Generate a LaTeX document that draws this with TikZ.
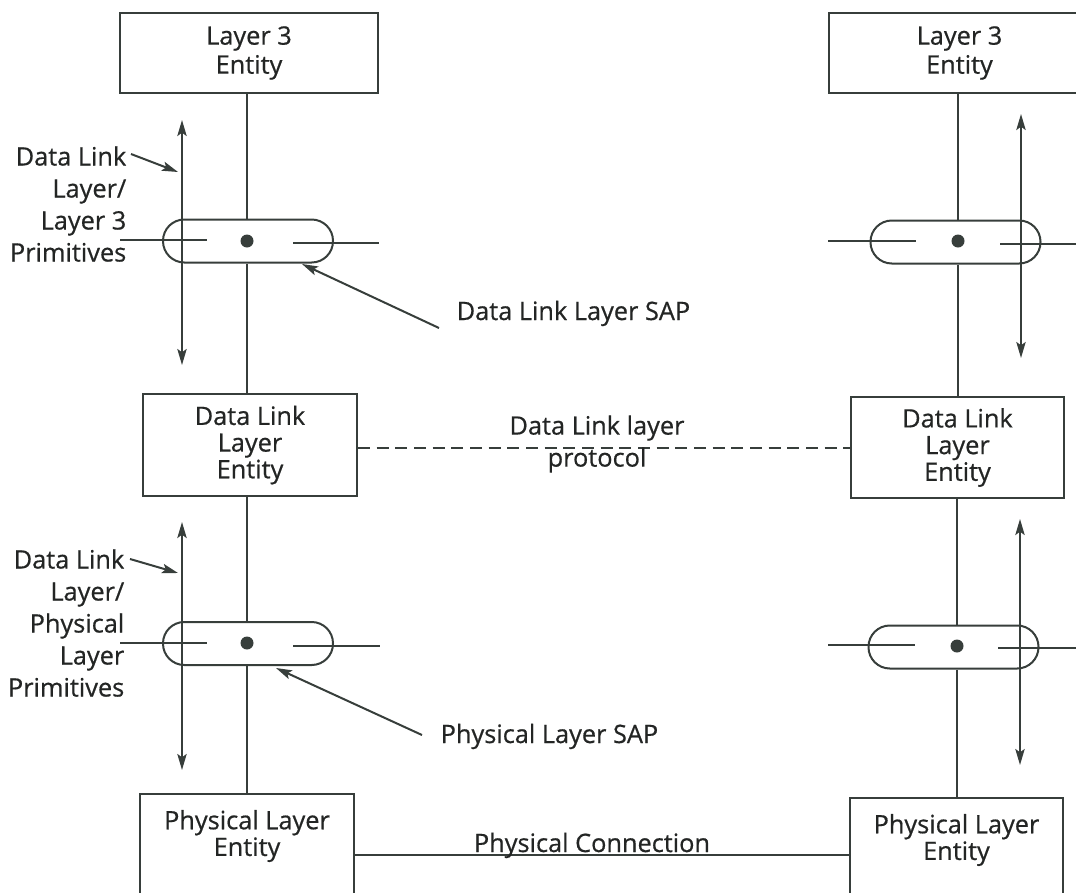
\documentclass[tikz,border=0pt]{standalone}
\usepackage{fontspec}
\setmainfont{Open Sans}[FakeBold=0.6]
\usetikzlibrary{arrows.meta}
\definecolor{ink}{RGB}{55,62,59}
\definecolor{inktext}{RGB}{35,37,36}
\tikzset{
  every node/.style={text=inktext, font=\fontsize{19}{20}\selectfont},
  entity/.style={draw=ink, line width=1.6pt, rectangle, inner sep=0pt, align=center},
  sap/.style={draw=ink, line width=1.5pt, rectangle, rounded corners=16pt,
              minimum width=127.5pt, minimum height=32.25pt, inner sep=0pt},
  sapdot/.style={circle, fill=ink, minimum size=9.75pt, inner sep=0pt},
  wire/.style={draw=ink, line width=1.5pt},
  tip/.tip={Stealth[length=12pt,width=7pt,inset=2.5pt]},
  flow/.style={wire, tip-tip},
  pointer/.style={wire, -tip},
  lbl/.style={align=right, anchor=east, font=\fontsize{19}{24}\selectfont},
}
\begin{document}
\begin{tikzpicture}[x=0.75pt, y=-0.75pt]
\useasboundingbox (0,0) rectangle (1076,893);

% entity boxes, left stack
\node[entity, minimum width=193.5pt, minimum height=60pt, font=\fontsize{19}{21.75}\selectfont] (l3l) at (249,53) {Layer 3\\Entity};
\node[entity, minimum width=160.5pt, minimum height=76.5pt] (dll) at (250,445) {Data Link\\Layer\\Entity};
\node[entity, minimum width=160.5pt, minimum height=97.5pt, anchor=north] (phl) at (247,793) {};
\node[align=center] (phltxt) at (247,836) {Physical Layer\\Entity};

% entity boxes, right stack
\node[entity, minimum width=195.75pt, minimum height=60pt, font=\fontsize{19}{21.75}\selectfont] (l3r) at (959.5,53) {Layer 3\\Entity};
\node[entity, minimum width=160pt, minimum height=75.75pt] (dlr) at (957.5,447.5) {Data Link\\Layer\\Entity};
\node[entity, minimum width=160pt, minimum height=97.5pt, anchor=north] (phr) at (956.5,797) {};
\node[align=center] (phrtxt) at (956.5,840) {Physical Layer\\Entity};

% service access points
\node[sap] (sapL1) at (248,241) {};
\node[sap] (sapR1) at (955.5,242) {};
\node[sap] (sapL2) at (248,643.5) {};
\node[sap] (sapR2) at (953.5,647) {};
\node[sapdot] (dotL1) at (247,241) {};
\node[sapdot] (dotR1) at (958,241) {};
\node[sapdot] (dotL2) at (247,643) {};
\node[sapdot] (dotR2) at (957,646) {};

% vertical links between layers
\draw[wire] (dotL1 |- l3l.south) -- (dotL1 |- sapL1.north);
\draw[wire] (dotL1 |- sapL1.south) -- (dotL1 |- dll.north);
\draw[wire] (dotL2 |- dll.south) -- (dotL2 |- sapL2.north);
\draw[wire] (dotL2 |- sapL2.south) -- (dotL2 |- phl.north);
\draw[wire] (dotR1 |- l3r.south) -- (dotR1 |- sapR1.north);
\draw[wire] (dotR1 |- sapR1.south) -- (dotR1 |- dlr.north);
\draw[wire] (dotR2 |- dlr.south) -- (dotR2 |- sapR2.north);
\draw[wire] (dotR2 |- sapR2.south) -- (dotR2 |- phr.north);

% boundary strokes crossing each SAP
\coordinate (aL1a) at (120,240); \coordinate (aL1b) at (207,240);
\coordinate (bL1a) at (293,243); \coordinate (bL1b) at (379,243);
\coordinate (aL2a) at (120,643); \coordinate (aL2b) at (207,643);
\coordinate (bL2a) at (293,646); \coordinate (bL2b) at (380,646);
\coordinate (aR1a) at (828,241); \coordinate (aR1b) at (916,241);
\coordinate (bR1a) at (1000,244); \coordinate (bR1b) at (1076,244);
\coordinate (aR2a) at (828,645); \coordinate (aR2b) at (915,645);
\coordinate (bR2a) at (998,648); \coordinate (bR2b) at (1076,648);
\draw[wire] (aL1a) -- (aL1b); \draw[wire] (bL1a) -- (bL1b);
\draw[wire] (aL2a) -- (aL2b); \draw[wire] (bL2a) -- (bL2b);
\draw[wire] (aR1a) -- (aR1b); \draw[wire] (bR1a) -- (bR1b);
\draw[wire] (aR2a) -- (aR2b); \draw[wire] (bR2a) -- (bR2b);

% primitive flows
\coordinate (fL1t) at (182,120); \coordinate (fL1b) at (182,365);
\coordinate (fL2t) at (182,522); \coordinate (fL2b) at (182,770);
\coordinate (fR1t) at (1021,114); \coordinate (fR1b) at (1021,358);
\coordinate (fR2t) at (1020,519); \coordinate (fR2b) at (1020,765);
\draw[flow] (fL1t) -- (fL1b);
\draw[flow] (fL2t) -- (fL2b);
\draw[flow] (fR1t) -- (fR1b);
\draw[flow] (fR2t) -- (fR2b);

% primitive labels
\node[lbl] (prim1) at (131,204) {Data Link\\Layer/\\Layer 3\\Primitives};
\node[lbl] (prim2) at (129,623) {Data Link\\Layer/\\Physical\\Layer\\Primitives};
\coordinate (p1a) at (131,154); \coordinate (p1b) at (178,172);
\coordinate (p2a) at (130,559); \coordinate (p2b) at (178,573);
\draw[pointer] (p1a) -- (p1b);
\draw[pointer] (p2a) -- (p2b);

% SAP captions
\node[anchor=base west] (dlsap) at (452,320) {Data Link Layer SAP};
\node[anchor=base west] (physap) at (436,743) {Physical Layer SAP};
\coordinate (s1a) at (439,328); \coordinate (s1b) at (302,264);
\coordinate (s2a) at (422,735); \coordinate (s2b) at (276,668);
\draw[pointer] (s1a) -- (s1b);
\draw[pointer] (s2a) -- (s2b);

% peer protocol and physical medium
\coordinate (protoY) at (0,448);
\coordinate (mediumY) at (0,855);
\draw[wire, line width=1.2pt, dash pattern=on 9pt off 5pt] (dll.east |- protoY) -- (dlr.west |- protoY);
\node[align=center, font=\fontsize{19}{24}\selectfont] (proto) at (597,444) {Data Link layer\\protocol};
\draw[wire, line width=1.7pt] (phl.east |- mediumY) -- (phr.west |- mediumY);
\node[anchor=base] (phycon) at (592,852) {Physical Connection};
\end{tikzpicture}
\end{document}
